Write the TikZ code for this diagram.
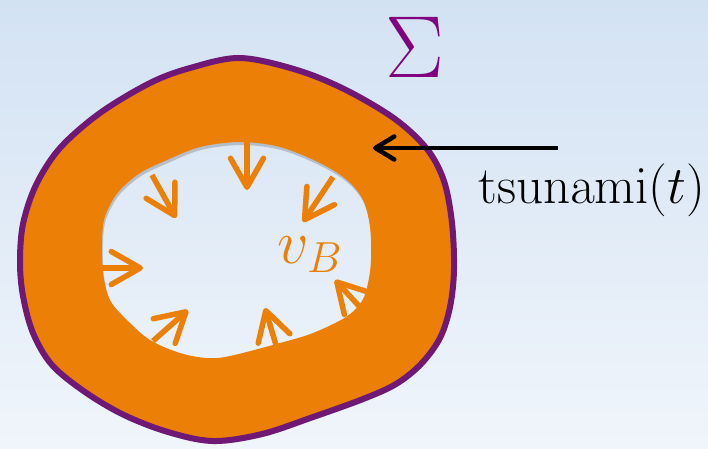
\RequirePackage{fix-cm}
\documentclass[tikz,border=0pt]{standalone}
\usetikzlibrary{arrows.meta}
\definecolor{ringorange}{RGB}{236,127,5}
\definecolor{rimpurple}{RGB}{112,24,118}
\definecolor{sigmapurple}{RGB}{128,0,128}
\definecolor{skytop}{RGB}{211,226,243}
\definecolor{skybottom}{RGB}{240,245,251}
\def\outerrim{plot[smooth cycle,tension=0.55] coordinates {(240,58) (297,70) (346,90) (395,119) (427,149) (444,181) (452,223) (454,270) (450,307) (440,338) (421,364) (396,384) (363,399) (313,417) (262,434) (213,441) (168,432) (124,415) (85,392) (52,365) (33,333) (23,296) (20,262) (23,224) (36,185) (60,148) (100,113) (150,83) (190,68)}}
\def\innerhole{plot[smooth cycle,tension=0.55] coordinates {(240,142) (280,147) (320,163) (347,180) (363,200) (370,227) (371,260) (368,283) (362,301) (346,317) (313,333) (280,343) (230,356) (207,358) (180,353) (150,340) (127,320) (110,300) (103,273) (102,240) (104,220) (110,205) (120,190) (140,173) (167,160) (200,147)}}
\begin{document}
\begin{tikzpicture}[x=1pt,y=-1pt,
  inward/.style={ringorange,line width=5.5pt,-{Straight Barb[length=29pt,width=33pt,round]}},
  pointer/.style={line width=4.5pt,-{Straight Barb[length=19pt,width=23pt,round]}}]
\shade[top color=skytop,bottom color=skybottom] (0,0) rectangle (708,448);
\useasboundingbox (0,0) rectangle (708,448);
\fill[black,opacity=0.18,even odd rule,shift={(1,3)}] \outerrim \innerhole;
\fill[ringorange,even odd rule] \outerrim \innerhole;
\draw[rimpurple,line width=6pt] \outerrim;
\foreach \tx/\ty/\hx/\hy in {247/142/247/190,152/175/176/218,333/177/303/222,102/268/143/268,153/341/188/310,276/345/265/308,370/318/335/280}
  \draw[inward] (\tx,\ty) -- (\hx,\hy);
\node[text=sigmapurple,anchor=base,font=\fontsize{88}{88}\selectfont] (sigma) at (415,77) {$\Sigma$};
\node[text=ringorange,anchor=base,font=\fontsize{62}{62}\selectfont] (speed) at (310,263) {$v_B$};
\node[anchor=base,font=\fontsize{53}{53}\selectfont] (tsunami) at (592,203) {$\mathrm{tsunami}(t)$};
\coordinate (wave) at (558,148);
\coordinate (front) at (373,148);
\draw[pointer] (wave) -- (front);
\end{tikzpicture}
\end{document}
